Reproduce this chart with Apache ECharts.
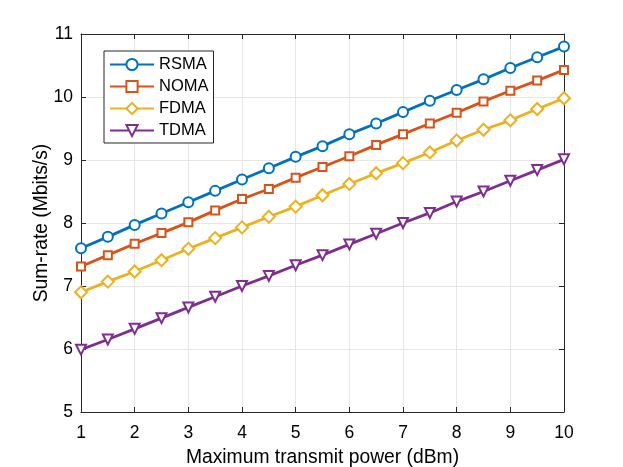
<!DOCTYPE html>
<html>
<head>
<meta charset="UTF-8">
<title></title>
<script src="https://cdn.jsdelivr.net/npm/echarts@6/dist/echarts.min.js"></script>
</head>
<body style="margin:0;background:#fff">
<div id="main" style="width:623px;height:467px;"></div>
<script type="text/javascript">
var power = [1, 1.5, 2, 2.5, 3, 3.5, 4, 4.5, 5, 5.5, 6, 6.5, 7, 7.5, 8, 8.5, 9, 9.5, 10];
var rsma = [7.60, 7.78, 7.97, 8.15, 8.33, 8.51, 8.69, 8.87, 9.05, 9.22, 9.41, 9.58, 9.76, 9.94, 10.11, 10.28, 10.46, 10.63, 10.80];
var noma = [7.31, 7.49, 7.67, 7.84, 8.01, 8.20, 8.38, 8.54, 8.72, 8.89, 9.06, 9.24, 9.41, 9.58, 9.75, 9.93, 10.10, 10.26, 10.43];
var fdma = [6.90, 7.07, 7.23, 7.41, 7.59, 7.76, 7.93, 8.10, 8.26, 8.44, 8.62, 8.79, 8.95, 9.12, 9.31, 9.48, 9.63, 9.81, 9.98];
var tdma = [5.99, 6.15, 6.32, 6.49, 6.66, 6.83, 7.00, 7.16, 7.33, 7.49, 7.66, 7.83, 8.00, 8.16, 8.34, 8.50, 8.67, 8.84, 9.01];

function pairs(ys) {
	var out = [];
	for (var i = 0; i < power.length; i++) out.push([power[i], ys[i]]);
	return out;
}

function line(name, ys, color, symbol, size, rot) {
	return {
		name: name,
		type: 'line',
		data: pairs(ys),
		symbol: symbol,
		symbolSize: size,
		symbolRotate: rot || 0,
		showAllSymbol: true,
		lineStyle: { color: color, width: 2.8 },
		itemStyle: { color: color, borderColor: color, borderWidth: 2.2 },
		emphasis: { disabled: true },
		z: 3
	};
}

var font = 'Liberation Sans, Arial, Helvetica, sans-serif';
var axisCol = '#262626';

var option = {
	animation: false,
	textStyle: { fontFamily: font },
	grid: { left: 81, right: 59, top: 34, bottom: 55, containLabel: false, outerBoundsMode: 'none' },
	legend: {
		orient: 'vertical',
		left: 104,
		top: 51,
		padding: [5, 5, 4, 5],
		itemWidth: 44,
		itemHeight: 14,
		itemGap: 5,
		backgroundColor: '#fff',
		borderColor: axisCol,
		borderWidth: 1,
		borderRadius: 0,
		textStyle: { fontSize: 16.5, color: '#000', fontFamily: font },
		data: ['RSMA', 'NOMA', 'FDMA', 'TDMA']
	},
	xAxis: [{
		type: 'value',
		min: 1, max: 10, interval: 1,
		name: 'Maximum transmit power (dBm)',
		nameLocation: 'middle',
		nameGap: 36,
		nameTextStyle: { fontSize: 19.3, color: '#000' },
		axisLine: { lineStyle: { color: axisCol, width: 1 } },
		axisTick: { inside: true, length: 5, lineStyle: { color: axisCol } },
		axisLabel: { fontSize: 17.5, color: '#000', margin: 12 },
		splitLine: { show: true, lineStyle: { color: '#e6e6e6', width: 1 } }
	}, {
		type: 'value', position: 'top',
		min: 1, max: 10, interval: 1,
		axisLine: { lineStyle: { color: axisCol, width: 1 } },
		axisTick: { inside: true, length: 5, lineStyle: { color: axisCol } },
		axisLabel: { show: false },
		splitLine: { show: false }
	}],
	yAxis: [{
		type: 'value',
		min: 5, max: 11, interval: 1,
		name: 'Sum-rate (Mbits/s)',
		nameLocation: 'middle',
		nameGap: 30,
		nameMoveOverlap: false,
		nameTextStyle: { fontSize: 19.3, color: '#000' },
		axisLine: { show: true, lineStyle: { color: axisCol, width: 1 } },
		axisTick: { show: true, inside: true, length: 5, lineStyle: { color: axisCol } },
		axisLabel: { fontSize: 17.5, color: '#000', margin: 8 },
		splitLine: { show: true, lineStyle: { color: '#e6e6e6', width: 1 } }
	}, {
		type: 'value', position: 'right',
		min: 5, max: 11, interval: 1,
		axisLine: { show: true, lineStyle: { color: axisCol, width: 1 } },
		axisTick: { show: true, inside: true, length: 5, lineStyle: { color: axisCol } },
		axisLabel: { show: false },
		splitLine: { show: false }
	}],
	series: [
		line('RSMA', rsma, '#0072BD', 'emptyCircle', 10),
		line('NOMA', noma, '#D95319', 'emptyRect', 8),
		line('FDMA', fdma, '#EDB120', 'emptyDiamond', 12),
		line('TDMA', tdma, '#7E2F8E', 'emptyTriangle', 10, 180)
	]
};

echarts.init(document.getElementById('main')).setOption(option);
</script>
</body>
</html>
